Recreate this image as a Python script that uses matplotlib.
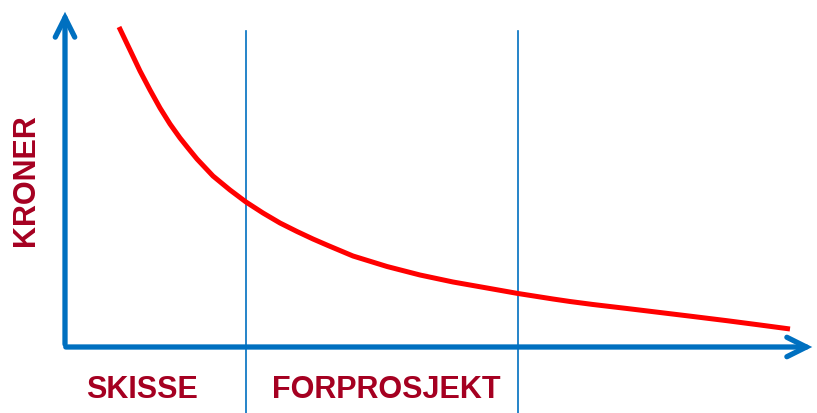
import matplotlib
matplotlib.use("Agg")
import matplotlib.pyplot as plt
from matplotlib.patches import FancyArrowPatch

# Datos (unidades arbitrarias: tiempo vs kroner)
tiempo = [54, 65, 75, 85, 95, 105, 115, 123, 132, 148, 165, 181, 198,
          215, 232, 248, 263, 288, 322, 355, 388, 422, 453, 488, 505,
          528, 562, 595, 628, 662, 695, 725]
kroner = [320, 297, 276, 257, 239, 223, 209, 199, 188, 171, 157, 145,
          134, 124, 115.5, 108, 101.5, 91, 80.5, 72, 65, 59, 53.5, 48,
          45.5, 42.5, 38.5, 34.5, 30.5, 26.3, 22, 18]

# Limites de las fases
fases = [181, 453]
etiquetas_fases = ["SKISSE", "FORPROSJEKT"]
pos_etiquetas = [77, 321]
titulo_y = "KRONER"

AZUL = "#0070C0"
ROJO = "#FF0000"
VINO = "#A50021"

fig = plt.figure(figsize=(8.17, 4.14), dpi=100)
ax = fig.add_axes([0, 0, 1, 1])
ax.set_xlim(-65, 752)
ax.set_ylim(-66, 348)
ax.axis("off")

# Ejes con flecha
for inicio, fin in [((0, 0), (0, 338)), ((-2, 0), (750, 0))]:
    flecha = FancyArrowPatch(inicio, fin,
                             arrowstyle="->,head_length=14,head_width=7",
                             mutation_scale=1, color=AZUL, lw=3.8,
                             capstyle="round", joinstyle="miter")
    ax.add_patch(flecha)

# Lineas de fases
for f in fases:
    ax.plot([f, f], [316, -66], color=AZUL, lw=1.2)

# Curva de costo
ax.plot(tiempo, kroner, color=ROJO, lw=3.6, solid_capstyle="butt",
        solid_joinstyle="round")

# Textos
for txt, x in zip(etiquetas_fases, pos_etiquetas):
    ax.text(x, -42, txt, color=VINO, fontsize=22, fontweight="bold",
            family="Liberation Sans", ha="center", va="center")
ax.text(-39, 168, titulo_y, color=VINO, fontsize=22, fontweight="bold",
        family="Liberation Sans", rotation=90, ha="center", va="center")

fig.savefig("out.png", dpi=100)
